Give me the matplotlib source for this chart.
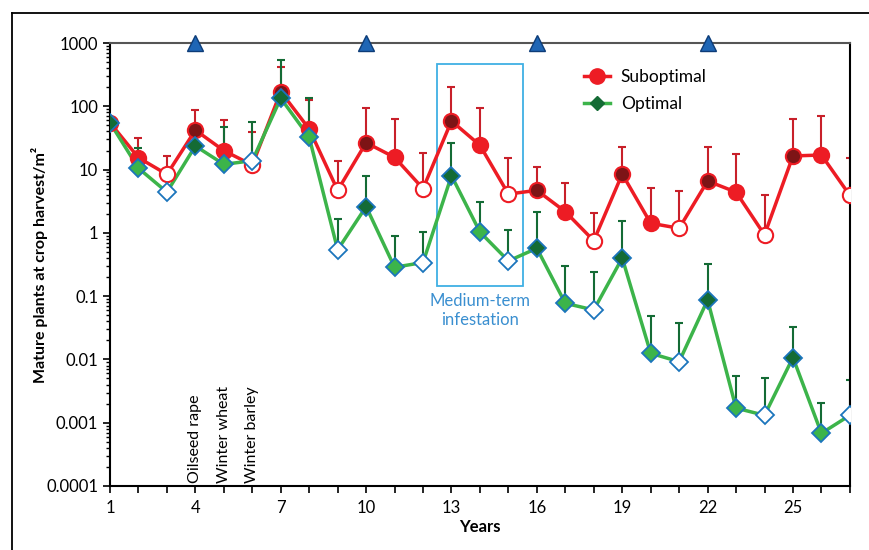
import matplotlib
matplotlib.use("Agg")
import matplotlib.pyplot as plt
from matplotlib.lines import Line2D
from matplotlib.patches import Rectangle
from matplotlib.ticker import LogLocator, FixedLocator, NullFormatter

plt.rcParams['font.family'] = ['Lato', 'DejaVu Sans']

years = list(range(1, 28))
subopt = [55, 15.4, 8.4, 42, 19.9, 11.8, 170, 43.8, 4.7, 26.6, 15.6, 5.0, 58.6,
          24.2, 4.1, 4.7, 2.16, 0.75, 8.5, 1.42, 1.18, 6.6, 4.4, 0.93, 16.4,
          17, 3.9]
subopt_top = [65, 31, 16.2, 87, 60, 39, 420, 126, 13.7, 94, 62, 18.5, 204,
              94, 15.3, 11, 6.2, 2.06, 22.5, 5.1, 4.6, 22.5, 17.9, 3.9, 62,
              70, 15.3]
opt = [55, 10.5, 4.4, 23.6, 12.1, 13.8, 134, 32.4, 0.54, 2.6, 0.286, 0.34,
       8.0, 1.03, 0.36, 0.57, 0.077, 0.0605, 0.40, 0.0125, 0.0092, 0.087,
       0.0017, 0.00131, 0.0107, 0.00068, 0.00131]
opt_top = [62, 21.7, 7.5, 50, 47.6, 56, 532, 137, 1.64, 8.0, 0.90, 1.02,
           26, 3.1, 1.11, 2.16, 0.30, 0.24, 1.56, 0.049, 0.037, 0.32,
           0.0055, 0.0051, 0.0326, 0.00203, 0.0048]
# crop in each year of the rotation: 0 oilseed rape, 1 winter wheat, 2 winter barley
crop = [(y - 1) % 3 for y in years]
osr_years = [4, 10, 16, 22]
crop_labels = ['Oilseed rape', 'Winter wheat', 'Winter barley']
crop_label_x = [4, 5, 6]
y_ticks = [0.0001, 0.001, 0.01, 0.1, 1, 10, 100, 1000]
y_tick_labels = ['0.0001', '0.001', '0.01', '0.1', '1', '10', '100', '1000']

RED = '#ed1c24'
DARKRED = '#7d1416'
ERR_RED = '#c8202a'
GREEN = '#3cb44a'
DARKGREEN = '#146b35'
EDGE_BLUE = '#1b75bc'
BOX_BLUE = '#3fb0e4'
TEXT_BLUE = '#3a8fd0'

fig = plt.figure(figsize=(8.69, 5.5), dpi=100)
ax = fig.add_axes([0.1266, 0.1164, 0.8514, 0.8054])

# error bars (upward only)
sub_err = [[0] * len(years), [t - v for t, v in zip(subopt_top, subopt)]]
opt_err = [[0] * len(years), [t - v for t, v in zip(opt_top, opt)]]
ax.errorbar(years, subopt, yerr=sub_err, fmt='none', ecolor=ERR_RED,
            elinewidth=1.5, capsize=3, capthick=1.5, zorder=2)
ax.errorbar(years, opt, yerr=opt_err, fmt='none', ecolor=DARKGREEN,
            elinewidth=1.5, capsize=3, capthick=1.5, zorder=2)

ax.plot(years, subopt, color=RED, lw=2.5, zorder=3)
ax.plot(years, opt, color=GREEN, lw=2.5, zorder=3)

sub_faces = [DARKRED, RED, 'white']
opt_faces = [DARKGREEN, GREEN, 'white']
for c in range(3):
    xs = [y for y, k in zip(years, crop) if k == c]
    ys = [v for v, k in zip(subopt, crop) if k == c]
    ax.plot(xs, ys, 'o', ms=11, mfc=sub_faces[c], mec=RED, mew=1.5,
            ls='none', zorder=4)
    ys = [v for v, k in zip(opt, crop) if k == c]
    ax.plot(xs, ys, 'D', ms=9, mfc=opt_faces[c], mec=EDGE_BLUE, mew=1.3,
            ls='none', zorder=5)

ax.plot(osr_years, [1000] * len(osr_years), '^', ms=11, mfc='#1f66b5',
        mec='#0d3c78', mew=1, ls='none', clip_on=False, zorder=6)

ax.add_patch(Rectangle((12.5, 0.145), 3.0, 466 - 0.145, fill=False,
                       ec=BOX_BLUE, lw=1.3, zorder=1))
ax.text(14, 0.112, 'Medium-term\ninfestation', color=TEXT_BLUE, fontsize=12,
        ha='center', va='top', linespacing=1.25)

for lab, x in zip(crop_labels, crop_label_x):
    ax.text(x, 0.000112, lab, rotation=90, ha='center', va='bottom',
            fontsize=11.5)

ax.set_yscale('log')
ax.set_ylim(0.0001, 1000)
ax.set_xlim(1, 27)
ax.xaxis.set_major_locator(FixedLocator(list(range(1, 28, 3))))
ax.xaxis.set_minor_locator(FixedLocator(years))
ax.yaxis.set_major_locator(FixedLocator(y_ticks))
ax.yaxis.set_minor_locator(LogLocator(base=10, subs=range(2, 10), numticks=20))
ax.yaxis.set_minor_formatter(NullFormatter())
ax.set_yticklabels(y_tick_labels)
ax.tick_params(axis='both', direction='out', labelsize=12, width=1.2)
ax.tick_params(axis='x', which='both', length=5, width=1.2, pad=5)
ax.tick_params(axis='y', which='major', length=5)
ax.tick_params(axis='y', which='minor', length=3, width=1)
for side in ['left', 'bottom', 'right']:
    ax.spines[side].set_linewidth(1.5)
    ax.spines[side].set_color('black')
ax.spines['top'].set_linewidth(1.5)
ax.spines['top'].set_color('#555555')

ax.set_xlabel('Years', fontsize=12, fontweight='bold', labelpad=2)
ax.set_ylabel('Mature plants at crop harvest/m²', fontsize=11.5,
              fontweight='bold', labelpad=-1)

handles = [
    Line2D([], [], color=RED, lw=2.5, marker='o', ms=11, mfc=RED, mec=RED),
    Line2D([], [], color=GREEN, lw=2.5, marker='D', ms=7, mfc=DARKGREEN,
           mec=DARKGREEN),
]
ax.legend(handles, ['Suboptimal', 'Optimal'], loc='upper left',
          bbox_to_anchor=(0.62, 0.977), frameon=False, fontsize=12.5,
          handlelength=1.5, handletextpad=0.6, labelspacing=0.65)

# outer frame
fig.add_artist(Line2D([12 / 869, 12 / 869], [0, 1 - 13 / 550], color='black',
                      lw=1.3, transform=fig.transFigure))
fig.add_artist(Line2D([12 / 869, 1], [1 - 13 / 550, 1 - 13 / 550],
                      color='black', lw=1.3, transform=fig.transFigure))

fig.savefig('out.png', dpi=100)
